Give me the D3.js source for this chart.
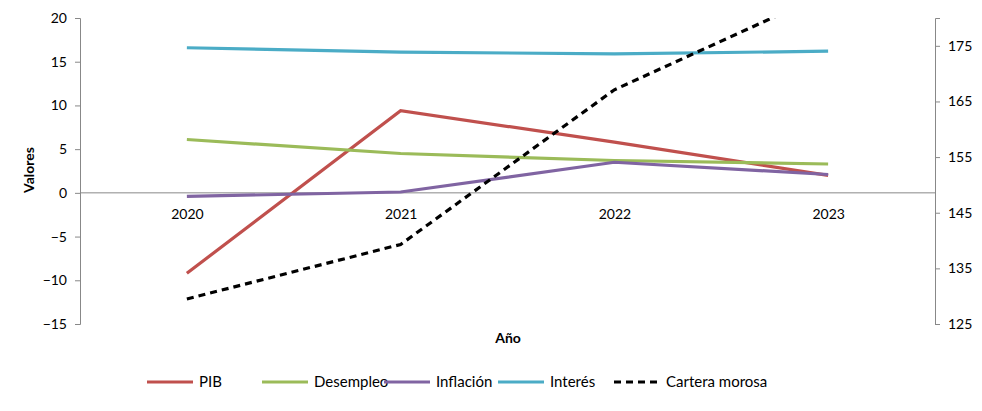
<!DOCTYPE html>
<html>
<head>
<meta charset="utf-8">
<title>Indicadores</title>
<style>
  body { margin: 0; background: #fff; }
  text { font-family: Lato, "Liberation Sans", sans-serif; }
</style>
</head>
<body>
<script src="https://cdn.jsdelivr.net/npm/d3@7/dist/d3.min.js"></script>
<script>
var years = ["2020", "2021", "2022", "2023"];
var pib = [-9.2, 9.4, 5.8, 2.0];
var desempleo = [6.1, 4.5, 3.7, 3.3];
var inflacion = [-0.4, 0.1, 3.5, 2.1];
var interes = [16.6, 16.1, 15.9, 16.2];
var cartera = [129.5, 139.3, 167.1, 184.6];
var leftTicks = [-15, -10, -5, 0, 5, 10, 15, 20];
var rightTicks = [125, 135, 145, 155, 165, 175];

var width = 982, height = 411;
var mLeft = 80, mRight = 935, mTop = 18, mBottom = 324;

var svg = d3.select("body").append("svg")
  .attr("width", width).attr("height", height);

var x = d3.scalePoint().domain(years).range([mLeft, mRight]).padding(0.5);
var y = d3.scaleLinear().domain([-15, 20]).range([mBottom, mTop]);
var y2 = d3.scaleLinear().domain([125, 180]).range([mBottom, mTop]);

svg.append("defs").append("clipPath").attr("id", "plot")
  .append("rect").attr("x", mLeft).attr("y", mTop)
  .attr("width", mRight - mLeft).attr("height", mBottom - mTop);

// eje izquierdo
var ya = svg.append("g").attr("transform", "translate(" + mLeft + ",0)")
  .call(d3.axisLeft(y).tickValues(leftTicks).tickSize(5).tickPadding(8));
// eje derecho
var y2a = svg.append("g").attr("transform", "translate(" + mRight + ",0)")
  .call(d3.axisRight(y2).tickValues(rightTicks).tickSize(5).tickPadding(8));
// eje de categorías en cero
var xa = svg.append("g").attr("transform", "translate(0," + y(0) + ")")
  .call(d3.axisBottom(x).tickSize(0).tickPadding(16));
xa.select(".domain").attr("d", "M" + mLeft + ",0H" + mRight);

[ya, y2a, xa].forEach(function(a) {
  a.selectAll("path, line").attr("stroke", "#888");
  a.selectAll("text").attr("font-size", 14).attr("fill", "#000");
});

svg.append("text").attr("transform", "translate(34,170) rotate(-90)")
  .attr("text-anchor", "middle").attr("font-size", 14).attr("font-weight", "bold")
  .text("Valores");
svg.append("text").attr("x", 508).attr("y", 343)
  .attr("text-anchor", "middle").attr("font-size", 14).attr("font-weight", "bold")
  .text("Año");

var series = [
  { name: "PIB", values: pib, color: "#C0504D", scale: y },
  { name: "Desempleo", values: desempleo, color: "#9BBB59", scale: y },
  { name: "Inflación", values: inflacion, color: "#8064A2", scale: y },
  { name: "Interés", values: interes, color: "#4BACC6", scale: y },
  { name: "Cartera morosa", values: cartera, color: "#000", scale: y2, dash: "7,5" }
];

var g = svg.append("g").attr("clip-path", "url(#plot)");
series.forEach(function(s) {
  var line = d3.line().x(function(d, i) { return x(years[i]); })
    .y(function(d) { return s.scale(d); });
  g.append("path").datum(s.values)
    .attr("d", line).attr("fill", "none")
    .attr("stroke", s.color).attr("stroke-width", 3.2)
    .attr("stroke-dasharray", s.dash || null);
});

// leyenda
var legX = [147, 262, 384, 498, 614];
series.forEach(function(s, i) {
  var lg = svg.append("g").attr("transform", "translate(" + legX[i] + ",382)");
  lg.append("line").attr("x1", 0).attr("x2", 46)
    .attr("stroke", s.color).attr("stroke-width", 3.2)
    .attr("stroke-dasharray", s.dash || null);
  lg.append("text").attr("x", 52).attr("y", 5).attr("font-size", 15).text(s.name);
});
</script>
</body>
</html>
